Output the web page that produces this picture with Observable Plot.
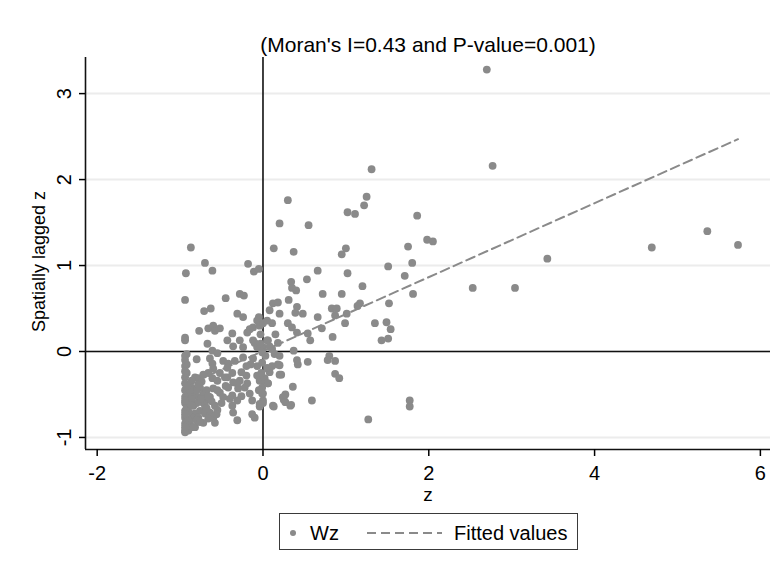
<!DOCTYPE html>
<html><head><meta charset="utf-8">
<script src="https://cdn.jsdelivr.net/npm/d3@7"></script>
<script src="https://cdn.jsdelivr.net/npm/@observablehq/plot@0.6"></script>
<style>
body{margin:0;background:#fff;}
#wrap{position:relative;width:782px;height:571px;font-family:"Liberation Sans",Arial,sans-serif;}
#legend{position:absolute;left:279px;top:513px;width:299px;height:37px;box-sizing:border-box;border:1px solid #3a3a3a;background:#fff;}
#legend svg{position:absolute;left:0;top:0;}
</style></head><body><div id="wrap"></div>
<script>
// Moran scatterplot: z vs spatially lagged z (Wz)
const zValues = [
 2.70,2.77,1.31,3.43,4.69,5.36,5.73,2.53,3.04,1.27,1.77,1.77,0.59,1.25,1.22,1.02,1.11,1.86,0.55,1.00,
 0.95,1.75,1.98,2.05,1.51,1.80,1.71,1.20,1.81,1.52,1.35,1.49,1.54,1.43,1.51,1.17,
 0.30,0.20,0.13,0.37,0.66,1.02,0.53,0.34,0.35,0.40,0.72,0.95,0.12,0.18,0.31,0.41,0.83,0.89,1.14,0.20,
 0.39,0.48,0.66,0.87,1.01,0.99,0.30,0.35,0.41,0.11,0.71,0.54,0.57,0.84,0.06,0.18,0.37,0.14,0.41,0.42,
 0.54,0.80,0.78,0.87,0.18,0.06,0.08,0.22,0.87,0.92,0.02,0.06,0.36,0.00,0.27,0.25,0.00,0.33,0.13,-0.04,
 -0.87,-0.70,-0.61,-0.93,-0.18,-0.11,-0.05,-0.94,-0.45,-0.28,
 -0.23,-0.71,-0.63,-0.31,-0.24,-0.05,-0.07,-0.77,-0.66,-0.60,
 -0.58,-0.52,-0.37,-0.19,-0.16,-0.12,-0.04,0.00,-0.94,-0.94,
 -0.67,-0.61,-0.55,-0.43,-0.36,-0.28,-0.24,-0.12,-0.07,0.00,
 -0.01,0.05,0.11,0.20,-0.94,-0.80,-0.64,-0.61,-0.60,-0.48,
 -0.42,-0.34,-0.43,-0.52,-0.24,-0.12,-0.07,-0.01,0.05,0.11,
 0.20,-0.94,-0.82,-0.78,-0.66,-0.61,-0.55,-0.43,-0.37,-0.36,
 -0.28,-0.20,-0.19,-0.07,-0.04,-0.01,0.02,0.06,0.20,-0.94,
 -0.94,-0.94,-0.94,-0.94,-0.94,-0.94,-0.94,-0.94,-0.86,-0.86,
 -0.84,-0.76,-0.72,-0.78,-0.70,-0.60,-0.52,-0.48,-0.64,-0.58,
 -0.42,-0.31,-0.30,-0.22,-0.37,-0.31,-0.16,-0.13,-0.01,0.00,
 0.12,0.24,0.27,0.34,-0.84,-0.80,-0.73,-0.70,-0.76,-0.82,
 -0.86,-0.78,-0.70,-0.64,-0.60,-0.58,-0.88,-0.82,-0.72,-0.90,
 -0.37,-0.36,-0.31,-0.13,-0.10,-0.04,-0.94,-0.92,-0.92,-0.90,
 -0.88,-0.90,-0.86,-0.80,-0.74,-0.68,-0.66,-0.55,-0.50,-0.45,
 -0.40,-0.26,-0.15,-0.10,0.15,-0.03,0.05,0.08,-0.02,
 -0.90,-0.88,-0.80,-0.75,-0.68,-0.62,-0.56,-0.86,-0.92,-0.92,
 -0.92,-0.92,-0.84,-0.76,-0.66,-0.78,-0.72,-0.55,-0.46,-0.26,
 -0.20,-0.05,0.03,0.08,-0.03,-0.94,-0.94,-0.94,-0.94,-0.94
];
const wzValues = [
 3.28,2.16,2.12,1.08,1.21,1.40,1.24,0.74,0.74,-0.79,-0.57,-0.64,-0.57,1.80,1.70,1.62,1.60,1.58,1.47,1.20,
 1.13,1.22,1.30,1.28,0.99,1.03,0.88,0.76,0.67,0.56,0.33,0.34,0.26,0.13,0.15,0.56,
 1.76,1.49,1.20,1.16,0.94,0.91,0.84,0.81,0.74,0.71,0.67,0.67,0.56,0.57,0.60,0.52,0.50,0.50,0.53,0.44,
 0.45,0.44,0.40,0.42,0.44,0.33,0.33,0.28,0.22,0.33,0.27,0.21,0.13,0.17,0.13,0.10,0.01,-0.03,-0.10,-0.15,
 -0.12,-0.05,-0.10,-0.11,-0.15,-0.20,-0.24,-0.27,-0.26,-0.31,-0.34,-0.37,-0.41,-0.49,-0.50,-0.56,-0.57,-0.63,-0.64,-0.64,
 1.21,1.03,0.94,0.91,1.02,0.93,0.96,0.60,0.62,0.67,
 0.65,0.47,0.50,0.44,0.40,0.40,0.36,0.24,0.27,0.30,
 0.24,0.27,0.21,0.22,0.26,0.28,0.30,0.33,0.16,0.13,
 0.09,0.01,-0.02,0.13,0.06,0.13,0.05,0.13,0.05,0.05,
 -0.01,0.13,0.03,-0.05,-0.05,-0.09,-0.08,-0.14,-0.20,-0.11,
 -0.14,-0.11,-0.19,-0.25,-0.07,-0.08,-0.17,-0.13,-0.19,-0.17,
 -0.16,-0.17,-0.30,-0.31,-0.25,-0.31,-0.34,-0.30,-0.25,-0.36,
 -0.34,-0.28,-0.37,-0.28,-0.34,-0.42,-0.31,-0.37,-0.27,-0.30,
 -0.37,-0.45,-0.53,-0.60,-0.69,-0.77,-0.84,-0.92,-0.34,-0.42,
 -0.49,-0.42,-0.49,-0.53,-0.57,-0.43,-0.48,-0.53,-0.53,-0.63,
 -0.42,-0.37,-0.43,-0.42,-0.51,-0.57,-0.49,-0.57,-0.49,-0.60,
 -0.63,-0.53,-0.59,-0.62,-0.63,-0.60,-0.59,-0.63,-0.69,-0.72,
 -0.77,-0.77,-0.72,-0.71,-0.77,-0.83,-0.84,-0.88,-0.83,-0.92,
 -0.63,-0.71,-0.80,-0.73,-0.77,-0.61,-0.94,-0.25,-0.65,-0.50,
 -0.60,-0.80,-0.55,-0.45,-0.35,-0.45,-0.78,-0.68,-0.60,-0.40,
 -0.55,-0.24,-0.15,0.10,0.20,0.20,0.36,0.48,-0.25,
 -0.70,-0.45,-0.80,-0.55,-0.66,-0.58,-0.73,-0.63,-0.40,-0.15,
 -0.03,-0.86,-0.88,-0.82,-0.52,-0.38,-0.27,-0.45,-0.30,-0.52,
 -0.17,-0.45,-0.05,0.06,0.09,-0.10,-0.23,-0.57,-0.73,-0.88
];
// Fitted values (OLS line, slope = Moran's I)
const fitZ = [-0.94, 5.73];
const fitWz = [-0.40, 2.47];
const xTicks = [-2, 0, 2, 4, 6];
const yTicks = [-1, 0, 1, 2, 3];
const xDomain = [-2.141, 6.122];
const yDomain = [-1.14, 3.42];
const titleText = "(Moran's I=0.43 and P-value=0.001)";
const xLabel = "z";
const yLabel = "Spatially lagged z";
const legendLabels = ["Wz", "Fitted values"];

const points = zValues.map((z, i) => ({z, wz: wzValues[i]}));
const fitted = fitZ.map((z, i) => ({z, wz: fitWz[i]}));

const grey = "#8a8a8a";
const chart = Plot.plot({
  width: 782, height: 571,
  marginTop: 57, marginBottom: 122, marginLeft: 85, marginRight: 12,
  x: {domain: xDomain},
  y: {domain: yDomain},
  style: {fontFamily: "Liberation Sans, Arial, sans-serif", fontSize: "20px", color: "#000", background: "#fff", overflow: "visible"},
  marks: [
    Plot.ruleY(yTicks, {stroke: "#ececec", strokeWidth: 2}),
    Plot.ruleY([0], {stroke: "#111", strokeWidth: 1.6}),
    Plot.ruleX([0], {stroke: "#111", strokeWidth: 1.6}),
    Plot.ruleX([xDomain[0]], {stroke: "#111", strokeWidth: 1.6}),
    Plot.ruleY([yDomain[0]], {stroke: "#111", strokeWidth: 1.6}),
    Plot.axisX({ticks: xTicks, tickSize: 7, tickPadding: 9, tickFormat: d => String(d), label: null, fontSize: 20, strokeWidth: 1.5}),
    Plot.axisY({ticks: yTicks, tickSize: 6, tickFormat: () => "", label: null, strokeWidth: 1.5}),
    Plot.text(yTicks, {y: d => d, text: d => String(d), frameAnchor: "left", textAnchor: "middle", rotate: -90, dx: -21, fontSize: 20}),
    Plot.text([xLabel], {text: d => d, frameAnchor: "bottom", lineAnchor: "bottom", dy: 51, fontSize: 19}),
    Plot.text([yLabel], {text: d => d, frameAnchor: "left", textAnchor: "middle", rotate: -90, dx: -46, dy: 8, fontSize: 18}),
    Plot.text([titleText], {text: d => d, frameAnchor: "top", lineAnchor: "bottom", dy: -6, fontSize: 21}),
    Plot.line(fitted, {x: "z", y: "wz", stroke: grey, strokeWidth: 2, strokeDasharray: "9,5"}),
    Plot.dot(points, {x: "z", y: "wz", r: 3.9, fill: grey, stroke: "none"})
  ]
});
const wrap = document.getElementById("wrap");
wrap.appendChild(chart);

const legend = document.createElement("div");
legend.id = "legend";
legend.innerHTML = `<svg width="299" height="37" style="font-family:'Liberation Sans',Arial,sans-serif;font-size:20px">
  <circle cx="13" cy="19" r="3" fill="${grey}"></circle>
  <text x="30" y="26" fill="#000">${legendLabels[0]}</text>
  <line x1="87" x2="162" y1="19" y2="19" stroke="${grey}" stroke-width="2" stroke-dasharray="9,5"></line>
  <text x="174" y="26" fill="#000">${legendLabels[1]}</text>
</svg>`;
wrap.appendChild(legend);
</script>
</body></html>
